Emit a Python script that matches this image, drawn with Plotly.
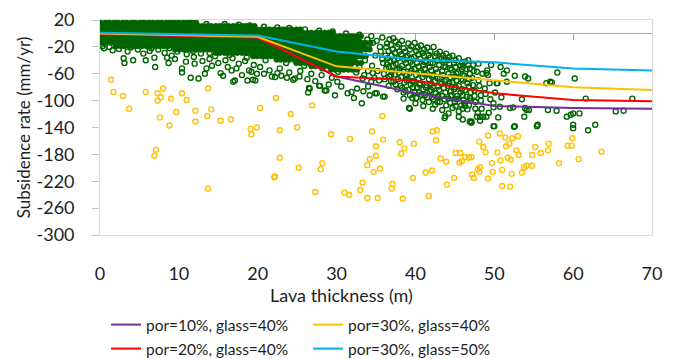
import plotly.graph_objects as go

# ---------------- model lines ----------------
model_x = [0, 10, 20, 30, 40, 50, 60, 70]
por10_glass40 = [-1, -3, -6, -64, -89, -108, -111, -112]
por20_glass40 = [-1, -3, -6, -64, -70, -89, -99, -101]
por30_glass40 = [0, -2, -5, -49, -59, -69, -80, -84]
por30_glass50 = [1, -1, -3, -27, -39, -43, -52, -55]

# ---------------- axis ticks ----------------
x_ticks = [0, 10, 20, 30, 40, 50, 60, 70]
y_ticks = [20, -20, -60, -100, -140, -180, -220, -260, -300]
y_tick_text = ["20", "-20", "-60", "-100", "-140", "-180", "-220", "-260", "-300"]

# ---------------- observed (green) points: dense core, rows of x at a given rate ----------------
gx_r01 = [0.1,0.7,1.2,1.8,2.3,2.9,3.4,4.0,4.5,5.1,5.6,6.2,6.7,7.3,7.8,8.4,8.9,9.5,10.0,10.6,11.1,11.7,12.2]
gx_r02 = [0.4,0.9,1.5,2.0,2.6,3.1,3.7,4.2,4.8,5.3,5.9,6.4,7.0,7.5,8.1,8.6,9.2,9.7,10.3,10.8,11.4,11.9,12.5,13.0,
          13.6,14.1,14.7,15.2,15.8,16.3,16.9,17.4,18.0,18.5,19.1,19.6]
gx_r03 = [0.1,0.6,1.2,1.7,2.3,2.9,3.4,3.9,4.5,5.1,5.6,6.1,6.7,7.3,7.8,8.3,8.9,9.5,10.0,10.5,11.1,11.7,12.2,12.7,
          13.3,13.9,14.4,14.9,15.5,16.1,16.6,17.1,17.7,18.3,18.8,19.3,19.9,20.5,21.0,21.5,22.1,22.7,23.2,23.7,
          24.3,24.9,25.4]
gx_r04 = [0.4,1.0,1.5,2.1,2.6,3.2,3.7,4.3,4.8,5.4,5.9,6.5,7.0,7.6,8.1,8.7,9.2,9.8,10.3,10.9,11.4,12.0,12.5,13.1,
          13.6,14.2,14.7,15.3,15.8,16.4,16.9,17.5,18.0,18.6,19.1,19.7,20.2,20.8,21.3,21.9,22.4,23.0,23.5,24.1,
          24.6,25.2,25.7,26.3,26.8,27.4,27.9,28.5,29.0,29.5]
gx_r05 = [0.1,0.7,1.2,1.8,2.3,2.9,3.4,4.0,4.5,5.1,5.6,6.2,6.7,7.3,7.8,8.4,8.9,9.5,10.0,10.6,11.1,11.7,12.2,12.8,
          13.3,13.9,14.4,15.0,15.5,16.1,16.6,17.2,17.7,18.3,18.8,19.4,19.9,20.5,21.0,21.6,22.1,22.7,23.2,23.8,
          24.3,24.9,25.4,26.0,26.5,27.1,27.6,28.2,28.7,29.3,29.8,30.4,30.9,31.5,32.0,32.6,33.1]
gx_r06 = [0.4,0.9,1.5,2.0,2.6,3.1,3.7,4.2,4.8,5.3,5.9,6.4,7.0,7.5,8.1,8.6,9.2,9.7,10.3,10.8,11.4,11.9,12.5,13.0,
          13.6,14.1,14.7,15.2,15.8,16.3,16.9,17.4,18.0,18.5,19.1,19.6,20.2,20.7,21.3,21.8,22.4,22.9,23.5,24.0,
          24.6,25.1,25.7,26.2,26.8,27.3,27.9,28.4,29.0,29.5,30.1,30.6,31.2,31.7,32.3,32.8]
gx_r07 = [0.2,0.7,1.3,1.8,2.4,2.9,3.5,4.0,4.6,5.1,5.7,6.2,6.8,7.3,7.9,8.4,9.0,9.5,10.1,10.6,11.2,11.7,12.3,12.8,
          13.4,13.9,14.5,15.0,15.6,16.1,16.7,17.2,17.8,18.3,18.9,19.4,20.0,20.5,21.1,21.6,22.2,22.7,23.3,23.8,
          24.4,24.9,25.5,26.0,26.6,27.1,27.7,28.2,28.8,29.3,29.9,30.4,31.0,31.5,32.1,32.6,33.2,33.7,34.3]
gx_r08 = [2.0,2.6,3.1,3.7,4.2,4.8,5.3,5.9,6.4,7.0,7.5,8.1,8.6,9.2,9.7,10.3,10.8,11.4,11.9,12.5,13.0,13.6,14.1,
          14.7,15.2,15.8,16.3,16.9,17.4,18.0,18.5,19.1,19.6,20.2,20.7,21.3,21.8,22.4,22.9,23.5,24.0,24.6,25.1,
          25.7,26.2,26.8,27.3,27.9,28.4,29.0,29.5,30.1,30.6,31.2,31.7,32.3,32.8,33.4]
gx_r09 = [9.5,10.0,10.6,11.1,11.7,12.2,12.8,13.3,13.9,14.4,15.0,15.5,16.1,16.6,17.2,17.7,18.3,18.8,19.4,19.9,20.5,
          21.0,21.6,22.1,22.7,23.2,23.8,24.3,24.9,25.4,26.0,26.5,27.1,27.6,28.2,28.7,29.3,29.8,30.4,30.9,31.5,
          32.0,32.6,33.1,33.7,34.2]
gx_r10 = [14.7,15.2,15.8,16.3,16.9,17.4,18.0,18.5,19.1,19.6,20.2,20.7,21.3,21.8,22.4,22.9,23.5,24.0,24.6,25.1,
          25.7,26.2,26.8,27.3,27.9,28.4,29.0,29.5,30.1,30.6,31.2,31.7,32.3,32.8]
gx_r11 = [19.4,19.9,20.5,21.0,21.6,22.1,22.7,23.2,23.8,24.3,24.9,25.4,26.0,26.5,27.1,27.6,28.2,28.7,29.3,29.8,
          30.4,30.9,31.5,32.0,32.6,33.1,33.7]
gx_r12 = [22.4,22.9,23.5,24.0,24.6,25.1,25.7,26.2,26.8,27.3,27.9,28.4,29.0,29.5,30.1,30.6,31.2,31.7,32.3]
gx_r13 = [24.9,25.4,26.0,26.5,27.1,27.6,28.2,28.7,29.3,29.8,30.4,30.9,31.5,32.0,32.6,33.1]
gx_r14 = [26.8,27.3,27.9,28.4,29.0,29.5,30.1,30.6,31.2,31.7]
gx_r15 = [29.3,29.8,30.4,30.9,31.5,32.0,32.6]
green_row_rates = [16, 11, 6, 1, -4, -9, -14, -19, -24, -29, -34, -39, -44, -49, -54]

# edges of the dense cloud
green_edge = [(2.5,18),(5.7,18),(9.0,17),(11.5,16),(13.5,14),(15.8,14),(17.6,13),(19.0,12),(20.8,10),
              (22.5,9),(24.0,8),(26.0,6),(27.8,4),(29.5,3),(31.2,0),(32.9,-2),(34.4,-4),(35.8,-6),
              (0.3,-19),(1.2,-20),(3.9,-21),(6.5,-22),(8.8,-22),(11.8,-26),(13.9,-29),(16.4,-32),(18.6,-36),
              (21.0,-40),(23.6,-44),(25.9,-48),(28.2,-52),(30.2,-57),(32.5,-58),(34.6,-59),
              (33.0,-30),(33.6,-40),(34.1,-22),(34.5,-48),(34.9,-33),(35.2,-56),(35.6,-27),(35.8,-38),
              (36.4,-15),(32.9,-50),(34.0,-56),(33.2,-17),(35.1,-11),(36.1,-68),(34.4,-72),(33.3,-67)]

# semi-dense part of the cloud (33-49 m)
green_semi = [(36.7,-9),(36.9,-17),(36.6,-26),(37.0,-33),(36.8,-41),(36.6,-50),(37.0,-57),(36.7,-64),(36.9,-71),(36.6,-78),
              (37.5,-12),(37.7,-20),(37.4,-29),(37.8,-37),(37.5,-45),(37.7,-54),(37.4,-61),(37.8,-68),(37.5,-76),(37.7,-83),
              (38.3,-11),(38.5,-22),(38.2,-31),(38.6,-39),(38.3,-48),(38.5,-57),(38.2,-65),(38.6,-73),(38.3,-81),(38.5,-88),
              (39.1,-15),(39.3,-24),(39.0,-33),(39.4,-42),(39.1,-50),(39.3,-59),(39.0,-67),(39.4,-76),(39.1,-84),(39.3,-92),
              (39.9,-14),(40.1,-26),(39.8,-35),(40.2,-44),(39.9,-53),(40.1,-62),(39.8,-71),(40.2,-80),(39.9,-88),(40.1,-96),
              (40.7,-18),(40.9,-29),(40.6,-38),(41.0,-47),(40.7,-56),(40.9,-65),(40.6,-74),(41.0,-83),(40.7,-91),(40.9,-99),
              (41.5,-21),(41.7,-32),(41.4,-41),(41.8,-50),(41.5,-59),(41.7,-68),(41.4,-77),(41.8,-86),(41.5,-95),(41.7,-102),
              (42.3,-20),(42.5,-34),(42.2,-44),(42.6,-53),(42.3,-62),(42.5,-71),(42.2,-80),(42.6,-89),(42.3,-98),(42.5,-106),
              (43.1,-27),(43.3,-37),(43.0,-47),(43.4,-56),(43.1,-66),(43.3,-75),(43.0,-84),(43.4,-93),(43.1,-102),
              (43.9,-30),(44.1,-40),(43.8,-50),(44.2,-60),(43.9,-69),(44.1,-78),(43.8,-88),(44.2,-97),(43.9,-107),
              (44.7,-33),(44.9,-44),(44.6,-54),(45.0,-64),(44.7,-73),(44.9,-83),(44.6,-92),(45.0,-102),(44.7,-111),
              (45.5,-37),(45.7,-48),(45.4,-58),(45.8,-68),(45.5,-78),(45.7,-88),(45.4,-97),(45.8,-107),(45.5,-116),
              (46.3,-42),(46.5,-53),(46.2,-63),(46.6,-74),(46.3,-84),(46.5,-94),(46.2,-104),(46.6,-113),
              (33.5,-62),(34.8,-66),(36.0,-60),(35.4,-70),(33.9,-9),(34.6,-14),(35.5,-20),(36.2,-33),(35.9,-44),
              (36.3,-52),(37.1,-24),(37.2,-48),(37.9,-58),(38.0,-27),(38.8,-44),(38.9,-62),(39.5,-37),(39.6,-71),
              (40.4,-49),(40.5,-88),(41.1,-33),(41.2,-61),(41.9,-44),(42.0,-75),(42.8,-58),(42.9,-93),(43.6,-40),
              (43.7,-71),(44.4,-52),(44.5,-86),(45.2,-60),(45.3,-93),(46.0,-70),(46.1,-99),(46.9,-60),(47.0,-88),
              (47.3,-77),(47.6,-102),(48.0,-70),(48.4,-112),
              (36.3,-20),(36.5,-37),(36.4,-46),(36.9,-62),(37.2,-7),(37.3,-40),(37.2,-72),(37.9,-16),(38.0,-52),
              (38.1,-78),(38.7,-27),(38.8,-35),(38.9,-70),(38.7,-85),(39.5,-19),(39.6,-46),(39.5,-55),(39.7,-80),
              (39.6,-96),(40.3,-21),(40.4,-31),(40.5,-58),(40.4,-67),(40.5,-76),(41.1,-24),(41.2,-43),(41.2,-53),
              (41.3,-80),(41.2,-92),(41.9,-27),(41.9,-36),(42.0,-55),(42.1,-64),(42.0,-84),(42.1,-95),(42.7,-30),
              (42.8,-40),(42.8,-67),(42.9,-79),(42.8,-102),(43.5,-33),(43.6,-49),(43.5,-62),(43.6,-81),(43.7,-98),
              (44.3,-35),(44.3,-45),(44.4,-65),(44.3,-74),(44.5,-93),(44.4,-103),(45.1,-40),(45.1,-50),(45.2,-70),
              (45.1,-80),(45.2,-98),(45.1,-108),(45.9,-43),(45.9,-53),(46.0,-62),(45.9,-83),(46.0,-92),(46.0,-112),
              (46.7,-47),(46.8,-68),(46.8,-79),(46.9,-96),(46.8,-107),(47.4,-56),(47.5,-93),(47.6,-112),(48.1,-78),
              (48.3,-100),(48.9,-90),(49.3,-118),(47.9,-118),(40.0,-104),(41.0,-108),(42.2,-112),(43.4,-114)]

# scattered green points
green_scatter = [(0.5,-22),(1.6,-25),(2.4,-23),(3.5,-27),(4.8,-24),(5.5,-30),(6.3,-26),(7.4,-24),(8.2,-29),(9.1,-33),
                 (9.8,-27),(11.0,-31),(11.9,-35),(12.8,-30),(13.9,-38),(14.6,-34),(15.9,-40),(16.8,-37),(17.6,-45),
                 (18.4,-41),(19.5,-47),(20.3,-50),(21.5,-55),(22.8,-52),(24.0,-58),(25.4,-56),(26.8,-60),(28.1,-62),
                 (29.4,-66),(6.9,-36),(9.5,-38),(10.9,-42),(12.0,-45),(13.0,-41),(14.2,-48),(15.0,-44),(16.2,-50),
                 (17.3,-52),(18.9,-55),(19.9,-60),(20.8,-60),(22.5,-59),(23.7,-66),(25.3,-64),(27.3,-71),(29.0,-76),
                 (30.6,-79),(32.6,-82),(33.4,-86),(32.2,-96),(29.8,-92),
                 (3.0,-37),(3.1,-44),(4.2,-40),(5.8,-40),(7.0,-50),(8.5,-36),(8.7,-44),(10.4,-52),(10.4,-58),
                 (11.5,-66),(12.5,-67),(13.3,-60),(13.5,-52),(15.3,-59),(15.6,-63),(16.7,-55),(16.9,-72),(17.1,-70),
                 (18.0,-62),(18.7,-70),(19.2,-57),(19.7,-70),(19.4,-69),(21.8,-64),(22.2,-65),(23.0,-63),(24.5,-69),
                 (24.7,-67),(26.3,-68),(26.4,-88),(26.5,-81),(26.6,-82),(27.8,-78),(27.9,-78),(28.5,-85),(28.7,-85),
                 (30.1,-72),(31.4,-89),(31.9,-87),(33.2,-104),(34.0,-79),(34.2,-92),(34.9,-89),(35.1,-89),(35.9,-94),
                 (36.1,-94),(38.5,-97),
                 (46.7,-40),(47.8,-57),(49.1,-55),(49.2,-62),(49.4,-74),(50.4,-74),(49.0,-59),(50.3,-74),(49.5,-98),
                 (49.9,-110),(50.7,-109),(49.9,-104),(46.9,-131),(47.8,-124),(48.6,-124),(47.1,-131),(47.1,-133),
                 (48.2,-124),(48.2,-130),(49.0,-124),(49.9,-138),(50.0,-138),(50.5,-125),(43.7,-126),(44.2,-119),
                 (43.8,-123),(39.2,-111),(39.3,-112),(47.5,-85),(48.3,-92),(47.0,-100),(46.3,-108),(48.8,-82),
                 (50.1,-88),(50.9,-95),(51.2,-60),(51.6,-55),(51.6,-72),(47.2,-66),(48.0,-45),(46.0,-50),(49.6,-47),
                 (50.8,-50),(45.5,-124),(46.0,-128),(47.3,-47),(46.9,-52),(48.5,-60),
                 (52.0,-111),(52.4,-110),(52.5,-139),(52.6,-138),(52.6,-63),(53.5,-98),(53.8,-124),(53.9,-111),
                 (53.9,-64),(54.1,-114),(54.3,-67),(54.4,-114),(55.4,-138),(55.5,-136),(56.6,-74),(56.8,-114),
                 (57.1,-72),(57.3,-73),(57.9,-115),(58.0,-58),(59.2,-124),(59.7,-121),(60.0,-119),(60.0,-136),
                 (60.0,-141),(60.2,-67),(60.8,-119),(61.6,-97),(61.9,-144),(62.8,-136),(65.4,-116),(66.4,-115),
                 (67.5,-97)]

# ---------------- yellow points ----------------
yellow_pts = [(1.4,-69),(1.7,-87),(2.9,-93),(3.7,-112),(5.8,-87),(7.3,-89),(7.7,-95),(7.3,-100),(8.0,-82),(9.0,-97),
              (10.4,-89),(11.0,-99),(13.7,-82),(9.7,-117),(7.6,-125),(8.8,-137),(12.1,-115),(12.1,-131),(13.6,-123),
              (14.1,-113),(15.3,-130),(16.6,-128),(7.1,-173),(6.9,-182),(13.7,-231),(20.3,-111),(19.1,-142),
              (19.2,-150),(19.9,-140),(22.3,-96),(22.8,-144),(22.8,-185),(22.2,-213),(22.1,-214),(24.2,-120),
              (25.0,-140),(25.2,-200),(26.9,-107),(27.3,-236),(28.0,-202),(28.2,-193),(29.3,-150),(31.7,-157),
              (31.0,-237),(31.6,-240),(33.0,-233),(33.3,-222),(33.9,-245),(35.2,-245),(33.9,-196),(34.2,-187),
              (35.0,-182),(34.7,-206),(35.5,-201),(35.0,-168),(34.5,-146),(35.9,-158),(35.8,-123),(37.1,-224),
              (37.0,-231),(38.4,-246),(38.0,-162),(38.6,-171),(38.2,-179),(39.8,-164),(39.7,-215),(41.3,-207),
              (42.1,-204),(41.7,-242),(42.2,-146),(42.7,-144),(42.6,-159),(43.2,-186),(43.9,-191),(44.0,-225),
              (44.9,-215),(45.1,-178),(45.7,-178),(45.6,-192),(45.9,-190),(46.3,-184),(46.8,-185),(47.1,-184),
              (47.2,-210),(47.4,-215),(47.9,-202),(48.1,-206),(48.2,-199),(48.1,-161),(48.6,-169),(48.9,-177),
              (49.2,-152),(49.2,-216),(49.7,-193),(49.8,-206),(50.4,-177),(50.8,-189),(50.7,-149),(51.0,-203),
              (51.0,-227),(51.4,-155),(51.5,-168),(52.0,-228),(51.9,-164),(51.7,-185),(52.1,-188),(52.3,-156),
              (52.2,-209),(52.8,-174),(53.1,-181),(53.0,-153),(53.5,-207),(53.8,-199),(54.1,-197),(54.8,-197),
              (54.8,-181),(55.2,-169),(55.9,-178),(56.8,-174),(56.9,-164),(58.2,-193),(59.3,-167),(59.8,-167),
              (59.9,-156),(60.7,-187),(63.6,-176)]

# ---------------- build ----------------
GREEN = "#006400"
YELLOW = "#FFC000"
FONT = "Lato"
TXT = "#1e1e1e"
NBSP = "\u00a0"

green_rows = [gx_r01, gx_r02, gx_r03, gx_r04, gx_r05, gx_r06, gx_r07, gx_r08,
              gx_r09, gx_r10, gx_r11, gx_r12, gx_r13, gx_r14, gx_r15]
core_x, core_y = [], []
for rate, xs in zip(green_row_rates, green_rows):
    for xv in xs:
        core_x.append(xv)
        core_y.append(rate)
gx, gy = [], []
for pts in (green_edge, green_semi, green_scatter):
    for xv, yv in pts:
        gx.append(xv)
        gy.append(yv)

yx = [p[0] for p in yellow_pts]
yy = [p[1] for p in yellow_pts]

fig = go.Figure()
# dense core: overlapping circles merge into a solid band
fig.add_trace(go.Scatter(x=core_x, y=core_y, mode="markers", showlegend=False, hoverinfo="skip",
                         marker=dict(symbol="circle", size=5.5, color=GREEN, line=dict(width=0.6, color=GREEN))))
fig.add_trace(go.Scatter(x=gx, y=gy, mode="markers", showlegend=False, hoverinfo="skip",
                         marker=dict(symbol="circle-open", size=5, color=GREEN, line=dict(width=1.4))))
fig.add_trace(go.Scatter(x=yx, y=yy, mode="markers", showlegend=False, hoverinfo="skip",
                         marker=dict(symbol="circle-open", size=5, color=YELLOW, line=dict(width=1.4))))

lines = [("por=10%, glass=40%", por10_glass40, "#7030A0", "legend"),
         ("por=20%, glass=40%", por20_glass40, "#FF0000", "legend2"),
         ("por=30%, glass=40%", por30_glass40, "#FFC000", "legend3"),
         ("por=30%, glass=50%", por30_glass50, "#00B0F0", "legend4")]
for name, ys, col, lg in lines:
    fig.add_trace(go.Scatter(x=model_x, y=ys, mode="lines", name=name, legend=lg,
                             xaxis="x2", yaxis="y", line=dict(color=col, width=2)))

# legend positions in paper units (plot area spans x 100..652 px, y 20..235 px)
leg_common = dict(xanchor="left", yanchor="middle", bgcolor="rgba(0,0,0,0)",
                  font=dict(family=FONT, size=15.5, color=TXT))
col1_x = (106 - 100) / 552
col2_x = (308 - 100) / 552
row1_y = (235 - 325) / 215
row2_y = (235 - 349) / 215

fig.update_layout(
    width=684, height=359,
    margin=dict(l=100, r=32, t=20, b=124, autoexpand=False),
    paper_bgcolor="white", plot_bgcolor="white",
    font=dict(family=FONT, color=TXT),
    legend=dict(x=col1_x, y=row1_y, **leg_common),
    legend2=dict(x=col1_x, y=row2_y, **leg_common),
    legend3=dict(x=col2_x, y=row1_y, **leg_common),
    legend4=dict(x=col2_x, y=row2_y, **leg_common),
    xaxis=dict(range=[0, 70], tickvals=x_ticks, showgrid=False, zeroline=False, automargin=False,
               showline=True, linecolor="#d9d9d9", linewidth=1, mirror=True, ticks="",
               tickangle=0, tickfont=dict(family=FONT, size=18, color=TXT), ticklabelstandoff=22),
    xaxis2=dict(range=[0, 70], tickvals=x_ticks, overlaying="x", anchor="free", position=300 / 320,
                side="bottom", showgrid=False, zeroline=False, showline=False, ticks="outside",
                ticklen=6, tickcolor="#a6a6a6", showticklabels=False, layer="below traces"),
    yaxis=dict(range=[-300, 20], tickvals=y_ticks, ticktext=[t + NBSP * 3 for t in y_tick_text],
               showgrid=False, zeroline=True, zerolinecolor="#a6a6a6", zerolinewidth=1, automargin=False,
               showline=True, linecolor="#d9d9d9", linewidth=1, mirror=True,
               ticks="outside", ticklen=7, tickcolor="#bfbfbf",
               tickfont=dict(family=FONT, size=18, color=TXT),
               title=dict(text="Subsidence rate (mm/yr)", font=dict(family=FONT, size=17, color=TXT), standoff=1)),
    annotations=[dict(text="Lava thickness (m)", xref="paper", yref="paper",
                      x=(341 - 100) / 552, y=(235 - 295) / 215, xanchor="center", yanchor="middle",
                      showarrow=False, font=dict(family=FONT, size=18, color=TXT))],
)

fig.write_html("out.html")
